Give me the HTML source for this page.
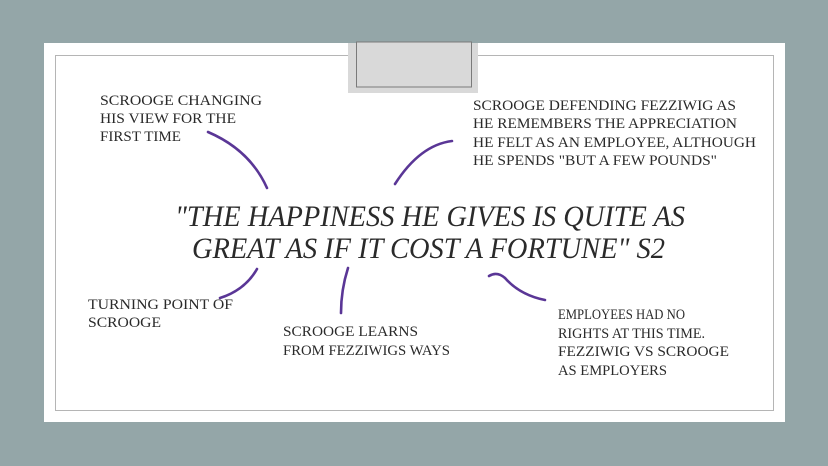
<!DOCTYPE html>
<html><head><meta charset="utf-8"><style>
html,body{margin:0;padding:0;width:828px;height:466px;overflow:hidden;background:#94a6a8;}
svg{display:block}
text{font-family:"Liberation Serif",serif;fill:#2a2a2a;}
</style></head><body>
<svg width="828" height="466" viewBox="0 0 828 466" xmlns="http://www.w3.org/2000/svg">
<rect x="0" y="0" width="828" height="466" fill="#94a6a8"/>
<rect x="44" y="43" width="741" height="379" fill="#fff"/>
<rect x="55.5" y="55.5" width="718" height="355" fill="none" stroke="#b5b5b5" stroke-width="1"/>
<rect x="348" y="43" width="130" height="50" fill="#d9d9d9"/>
<rect x="356.5" y="42" width="115" height="45" fill="#d9d9d9" stroke="#7a7a7a" stroke-width="1"/>

<g font-size="15">
<text x="100" y="105" textLength="162" lengthAdjust="spacingAndGlyphs">SCROOGE CHANGING</text>
<text x="100" y="123" textLength="136" lengthAdjust="spacingAndGlyphs">HIS VIEW FOR THE</text>
<text x="100" y="141" textLength="81" lengthAdjust="spacingAndGlyphs">FIRST TIME</text>

<text x="473" y="110" textLength="263" lengthAdjust="spacingAndGlyphs">SCROOGE DEFENDING FEZZIWIG AS</text>
<text x="473" y="128" textLength="264" lengthAdjust="spacingAndGlyphs">HE REMEMBERS THE APPRECIATION</text>
<text x="473" y="147" textLength="283" lengthAdjust="spacingAndGlyphs">HE FELT AS AN EMPLOYEE, ALTHOUGH</text>
<text x="473" y="165" textLength="244" lengthAdjust="spacingAndGlyphs">HE SPENDS "BUT A FEW POUNDS"</text>

<text x="88" y="309" textLength="145" lengthAdjust="spacingAndGlyphs">TURNING POINT OF</text>
<text x="88" y="327" textLength="73" lengthAdjust="spacingAndGlyphs">SCROOGE</text>

<text x="283" y="336" textLength="135" lengthAdjust="spacingAndGlyphs">SCROOGE LEARNS</text>
<text x="283" y="355" textLength="167" lengthAdjust="spacingAndGlyphs">FROM FEZZIWIGS WAYS</text>

<text x="558" y="319" textLength="127" lengthAdjust="spacingAndGlyphs">EMPLOYEES HAD NO</text>
<text x="558" y="338" textLength="147" lengthAdjust="spacingAndGlyphs">RIGHTS AT THIS TIME.</text>
<text x="558" y="356" textLength="171" lengthAdjust="spacingAndGlyphs">FEZZIWIG VS SCROOGE</text>
<text x="558" y="375" textLength="109" lengthAdjust="spacingAndGlyphs">AS EMPLOYERS</text>
</g>

<g font-size="30" font-style="italic">
<text x="175" y="226" textLength="510" lengthAdjust="spacingAndGlyphs">"THE HAPPINESS HE GIVES IS QUITE AS</text>
<text x="192" y="258" textLength="473" lengthAdjust="spacingAndGlyphs">GREAT AS IF IT COST A FORTUNE" S2</text>
</g>

<g fill="none" stroke="#5a3696" stroke-width="2.6" stroke-linecap="round">
<path d="M208 132 Q250 150 267 188"/>
<path d="M395 184 Q420 145 452 141"/>
<path d="M257 269 Q245 290 220 298"/>
<path d="M348 268 Q341 290 341 313"/>
<path d="M489 276 Q497 271 505 278 Q520 295 545 300"/>
</g>
</svg>
</body></html>
